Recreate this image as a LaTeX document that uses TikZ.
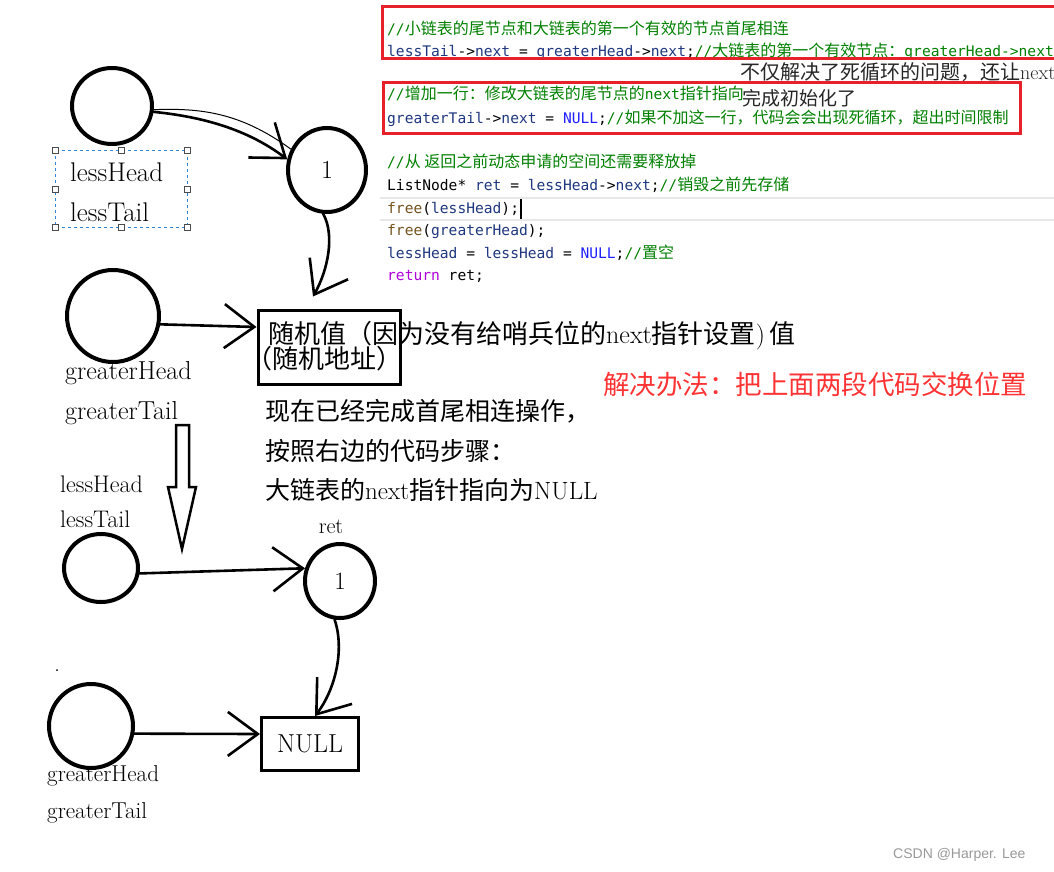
\documentclass[tikz,border=0pt]{standalone}
\usepackage{fontspec}
\newfontfamily\cjk{Noto Sans CJK SC}
\newfontfamily\codefont{DejaVu Sans Mono}
\newfontfamily\marksans{Liberation Sans}
\usetikzlibrary{positioning,shapes.geometric,arrows.meta}

\definecolor{cmtgreen}{HTML}{008000}
\definecolor{idtblue}{HTML}{1F377F}
\definecolor{kwdblue}{HTML}{2020FF}
\definecolor{fncbrown}{HTML}{74531F}
\definecolor{retpurple}{HTML}{AF00DB}
\definecolor{framered}{HTML}{E8202A}
\definecolor{notered}{HTML}{FF3333}
\definecolor{selblue}{HTML}{2F86D6}

\newcommand\zh[1]{{\cjk\fontsize{16}{18}\selectfont #1}}
\newcommand\cmt[1]{\textcolor{cmtgreen}{#1}}
\newcommand\idt[1]{\textcolor{idtblue}{#1}}
\newcommand\kwd[1]{\textcolor{kwdblue}{#1}}
\newcommand\fnc[1]{\textcolor{fncbrown}{#1}}

\tikzset{
  ring/.style={draw,ellipse,line width=4pt,inner sep=0pt},
  memo/.style={draw,line width=3pt,inner sep=0pt},
  handarrow/.style={line width=2.6pt,line cap=round,-{Straight Barb[length=30pt,width=44pt]}},
  tag/.style={anchor=west,inner sep=0pt},
  codeline/.style={anchor=west,inner sep=0pt,text height=11pt,text depth=3pt,font=\codefont\fontsize{14.6}{17}\selectfont},
  scrawl/.style={anchor=west,inner sep=0pt,text height=20pt,text depth=5pt,font=\fontsize{25}{30}\selectfont},
  redframe/.style={draw=framered,line width=3pt}
}

\begin{document}
\begin{tikzpicture}[x=1pt,y=-1pt]
  \path[use as bounding box,fill=white](0,0)rectangle(1054,871);

  % code on the right
  \draw[gray!18,line width=2pt](380,198)--(1054,198);
  \draw[gray!18,line width=2pt](380,220)--(1054,220);
  \node[codeline] (cl1) at (387,30) {\cmt{//\zh{小链表的尾节点和大链表的第一个有效的节点首尾相连}}};
  \node[codeline] (cl2) at (387,52) {\idt{lessTail}->\idt{next} = \idt{greaterHead}->\idt{next};\cmt{//\zh{大链表的第一个有效节点：}greaterHead->next}};
  \node[codeline] (cl3) at (387,95) {\cmt{//\zh{增加一行：修改大链表的尾节点的}next\zh{指针指向}}};
  \node[codeline] (cl4) at (387,119) {\idt{greaterTail}->\idt{next} = \kwd{NULL};\cmt{//\zh{如果不加这一行，代码会会出现死循环，超出时间限制}}};
  \node[codeline] (cl5) at (387,163) {\cmt{//\zh{从 返回之前动态申请的空间还需要释放掉}}};
  \node[codeline] (cl6) at (387,186) {ListNode* \idt{ret} = \idt{lessHead}->\idt{next};\cmt{//\zh{销毁之前先存储}}};
  \node[codeline] (cl7) at (387,209) {\fnc{free}(\idt{lessHead});};
  \node[codeline] (cl8) at (387,231) {\fnc{free}(\idt{greaterHead});};
  \node[codeline] (cl9) at (387,254) {\idt{lessHead} = \idt{lessHead} = \kwd{NULL};\cmt{//\zh{置空}}};
  \node[codeline] (cl10) at (387,276) {\textcolor{retpurple}{return} ret;};
  \draw[line width=1.5pt](521,199)--(521,219);
  \draw[redframe](1060,6)--(382,6)--(382,58)--(1060,58);
  \draw[redframe](383,82)rectangle(1020,133);
  \node[tag,font=\cjk\fontsize{20}{24}\selectfont,text=black!85] (fix1) at (740,72) {不仅解决了死循环的问题，还让{\rmfamily next}};
  \node[tag,font=\cjk\fontsize{19}{22}\selectfont,text=black!85] (fix2) at (742,98) {完成初始化了};

  % upper lists
  \node[ring,minimum width=80pt,minimum height=76pt] (lhnode) at (112,106) {};
  \node[ring,minimum width=78pt,minimum height=84pt,font=\fontsize{26}{28}\selectfont] (firstnode) at (327,170) {1};
  \draw[selblue,dashed,line width=1pt](55,150)rectangle(187,227);
  \foreach \hx/\hy in {55/150,121/150,187/150,55/189,187/189,55/227,121/227,187/227}
    \draw[gray!60!black,fill=white,line width=0.8pt](\hx-3,\hy-3)rectangle(\hx+3,\hy+3);
  \node[tag,font=\fontsize{27}{30}\selectfont] (lhname) at (70,172) {lessHead};
  \node[tag,font=\fontsize{27}{30}\selectfont] (ltname) at (70,212) {lessTail};
  \node[ring,minimum width=92pt,minimum height=92pt] (ghnode) at (113,316) {};
  \node[tag,font=\fontsize{26}{30}\selectfont] (ghname) at (65,373) {greaterHead};
  \node[tag,font=\fontsize{26}{30}\selectfont] (gtname) at (65,413) {greaterTail};
  \node[memo,minimum width=142pt,minimum height=74pt] (randbox) at (329,347) {};
  \node[scrawl,font=\fontsize{26}{30}\selectfont] (randtxt) at (268,336) {{\cjk 随机值（因为没有给哨兵位的}next{\cjk 指针设置})\,{\cjk 值}};
  \node[scrawl,font=\fontsize{26}{30}\selectfont] (randaddr) at (246,361) {{\cjk （随机地址）}};
  \draw[line width=1pt](lhnode.-5)..controls(200,108)and(240,112)..(firstnode.150);
  \draw[handarrow](lhnode.-8)..controls(215,118)and(255,135)..(firstnode.165);
  \draw[handarrow](firstnode.265)..controls(335,235)and(328,270)..([xshift=-16pt,yshift=12pt]randbox.north);
  \draw[handarrow](ghnode.-10)--([yshift=20pt]randbox.west);

  % notes
  \node[scrawl,font=\fontsize{26.5}{30}\selectfont,text=notered] (remedy) at (603,387) {{\cjk 解决办法：把上面两段代码交换位置}};
  \node[scrawl] (note1) at (265,413) {{\cjk 现在已经完成首尾相连操作，}};
  \node[scrawl] (note2) at (265,453) {{\cjk 按照右边的代码步骤：}};
  \node[scrawl] (note3) at (265,492) {{\cjk 大链表的}next{\cjk 指针指向为}NULL};
  \draw[line width=2.5pt,line join=miter](176,425)--(189,425)--(189,487)--(196,487)--(182,549)--(168,487)--(176,487)--cycle;

  % lower lists
  \node[tag,font=\fontsize{24}{28}\selectfont] (lhname2) at (60,484) {lessHead};
  \node[tag,font=\fontsize{24}{28}\selectfont] (ltname2) at (60,519) {lessTail};
  \node[ring,minimum width=74pt,minimum height=68pt] (lhnode2) at (101,568) {};
  \node[ring,minimum width=70pt,minimum height=74pt,font=\fontsize{25}{28}\selectfont] (retnode) at (340,581) {1};
  \node[above=8pt of retnode,xshift=-9pt,inner sep=0pt,font=\fontsize{22}{26}\selectfont] (retname) {ret};
  \fill(57,670)circle(1pt);
  \node[ring,minimum width=84pt,minimum height=84pt] (ghnode2) at (91,726) {};
  \node[tag,font=\fontsize{23}{27}\selectfont] (ghname2) at (47,776) {greaterHead};
  \node[tag,font=\fontsize{23}{27}\selectfont] (gtname2) at (47,813) {greaterTail};
  \node[memo,minimum width=97pt,minimum height=53pt,font=\fontsize{26}{29}\selectfont] (nullbox) at (310,744) {NULL};
  \draw[handarrow](lhnode2.-8)--(retnode.160);
  \draw[handarrow](retnode.262)..controls(345,650)and(335,690)..([xshift=5pt]nullbox.north);
  \draw[handarrow](ghnode2.-10)--([yshift=10pt]nullbox.west);

  \node[tag,font=\marksans\fontsize{14}{16}\selectfont,text=black!40] (mark) at (893,855) {CSDN @Harper. Lee};
\end{tikzpicture}
\end{document}
